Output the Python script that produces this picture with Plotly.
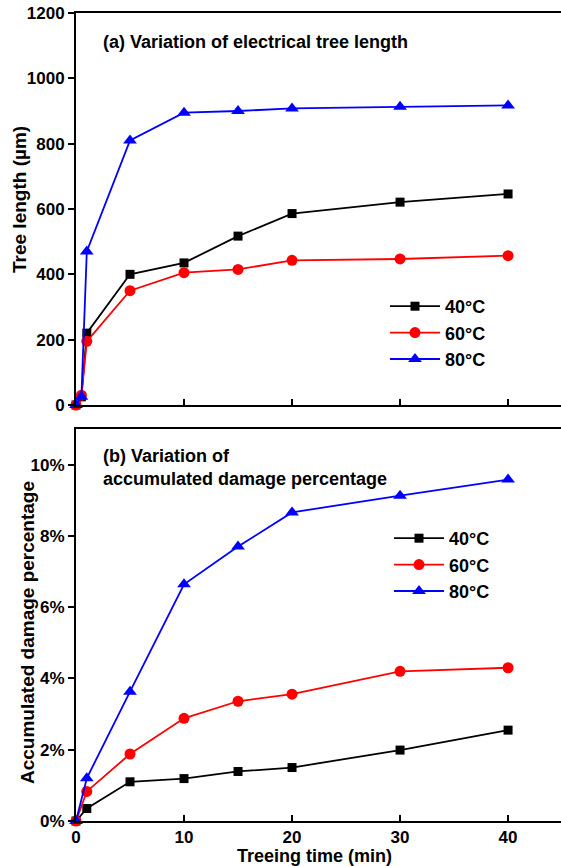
import plotly.graph_objects as go

# Panel (a): tree length (µm)
time_a = [0, 0.5, 1, 5, 10, 15, 20, 30, 40]
len_40 = [0, 25, 220, 400, 435, 517, 586, 621, 646]
len_60 = [0, 30, 195, 350, 405, 415, 443, 447, 457]
len_80 = [0, 25, 470, 810, 895, 900, 908, 913, 917]

# Panel (b): accumulated damage percentage (%)
time_b = [0, 1, 5, 10, 15, 20, 30, 40]
dmg_40 = [0, 0.35, 1.10, 1.19, 1.39, 1.50, 1.99, 2.55]
dmg_60 = [0, 0.83, 1.88, 2.88, 3.36, 3.56, 4.20, 4.30]
dmg_80 = [0, 1.20, 3.63, 6.64, 7.70, 8.66, 9.13, 9.58]

labels = ["40°C", "60°C", "80°C"]
colors = ["black", "red", "blue"]
symbols = ["square", "circle", "triangle-up"]
sizes = [9, 11, 12]

x_ticks = [0, 10, 20, 30, 40]
ya_ticks = [0, 200, 400, 600, 800, 1000, 1200]
yb_ticks = [0, 2, 4, 6, 8, 10]
yb_ticktext = [f"{v}%" for v in yb_ticks]

FONT = "Liberation Sans"
bold18 = dict(family=FONT, size=18, color="black", weight="bold")
bold19 = dict(family=FONT, size=19, color="black", weight="bold")
tick17 = dict(family=FONT, size=17, color="black", weight="bold")

fig = go.Figure()

for ys, lab, c, s, sz in zip([len_40, len_60, len_80], labels, colors, symbols, sizes):
    fig.add_trace(go.Scatter(x=time_a, y=ys, name=lab, mode="lines+markers",
                             line=dict(color=c, width=1.8), cliponaxis=False,
                             marker=dict(symbol=s, size=sz, color=c),
                             xaxis="x", yaxis="y", legend="legend"))
for ys, lab, c, s, sz in zip([dmg_40, dmg_60, dmg_80], labels, colors, symbols, sizes):
    fig.add_trace(go.Scatter(x=time_b, y=ys, name=lab, mode="lines+markers",
                             line=dict(color=c, width=1.8), cliponaxis=False,
                             marker=dict(symbol=s, size=sz, color=c),
                             xaxis="x2", yaxis="y2", legend="legend2"))

axcommon = dict(showline=True, linecolor="black", linewidth=2, showgrid=False,
                zeroline=False, tickfont=tick17, ticklen=6, tickwidth=1.5,
                tickcolor="black")

top_dom = [(821 - 405) / 808, 1]
bot_dom = [0, (821 - 429) / 808]

def px_x(p):
    return (p - 76) / 485

def px_y(p):
    return (821 - p) / 808

fig.update_layout(
    width=561, height=866,
    margin=dict(l=76, r=0, t=13, b=45),
    paper_bgcolor="white", plot_bgcolor="white",
    font=dict(family=FONT, color="black"),
    xaxis=dict(axcommon, domain=[0, 1], range=[0, 44.9], anchor="y",
               tickvals=x_ticks, ticks="inside", showticklabels=False, mirror=True),
    yaxis=dict(axcommon, domain=top_dom, range=[0, 1200], anchor="x",
               tickvals=ya_ticks, ticks="outside"),
    xaxis2=dict(axcommon, domain=[0, 1], range=[0, 44.9], anchor="y2",
                tickvals=x_ticks, ticks="inside", mirror=True),
    yaxis2=dict(axcommon, domain=bot_dom, range=[0, 11], anchor="x2",
                tickmode="array", tickvals=yb_ticks, ticktext=yb_ticktext,
                ticks="outside"),
    legend=dict(x=px_x(385), y=px_y(288), xanchor="left", yanchor="top",
                font=bold18, bgcolor="rgba(0,0,0,0)", tracegroupgap=0, itemwidth=50),
    legend2=dict(x=px_x(389), y=px_y(520), xanchor="left", yanchor="top",
                 font=bold18, bgcolor="rgba(0,0,0,0)", tracegroupgap=0, itemwidth=50),
    annotations=[
        dict(text="(a) Variation of electrical tree length", xref="paper", yref="paper",
             x=px_x(101), y=px_y(42), xanchor="left", yanchor="middle",
             showarrow=False, font=bold18),
        dict(text="(b) Variation of<br>accumulated damage percentage", xref="paper",
             yref="paper", x=px_x(101), y=px_y(468), xanchor="left",
             yanchor="middle", align="left", showarrow=False, font=bold18),
        dict(text="Tree length (µm)", xref="paper", yref="paper", textangle=-90,
             x=px_x(19), y=px_y(200), xanchor="center", yanchor="middle",
             showarrow=False, font=bold19),
        dict(text="Accumulated damage percentage", xref="paper", yref="paper",
             textangle=-90, x=px_x(27), y=px_y(633), xanchor="center",
             yanchor="middle", showarrow=False, font=bold19),
        dict(text="Treeing time (min)", xref="paper", yref="paper",
             x=px_x(314), y=px_y(856), xanchor="center", yanchor="middle",
             showarrow=False, font=bold18),
    ],
)

fig.write_html("out.html")
